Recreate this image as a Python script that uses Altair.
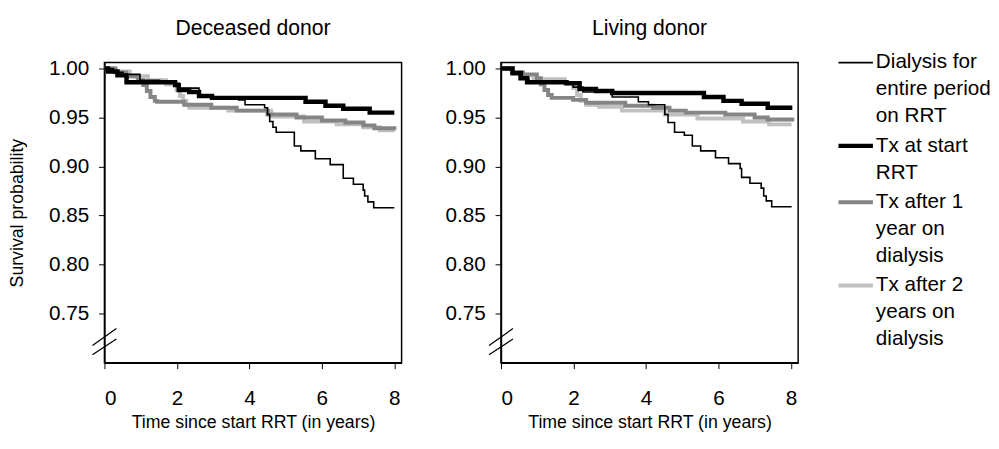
import altair as alt
import pandas as pd

series_names = [
    "Dialysis for entire period on RRT",
    "Tx at start RRT",
    "Tx after 1 year on dialysis",
    "Tx after 2 years on dialysis",
]
label_lines = [
    ["Dialysis for", "entire period", "on RRT"],
    ["Tx at start", "RRT"],
    ["Tx after 1", "year on", "dialysis"],
    ["Tx after 2", "years on", "dialysis"],
]
series_colors = ["#000000", "#000000", "#858585", "#c0c0c0"]
series_widths = [1.6, 4.5, 4.0, 4.0]

panel_titles = ["Deceased donor", "Living donor"]
x_title = "Time since start RRT (in years)"
y_title = "Survival probability"
x_ticks = [0, 2, 4, 6, 8]
y_ticks = [0.75, 0.80, 0.85, 0.90, 0.95, 1.00]

# ---- Deceased donor ----
dec_dial_t = [0, 0.25, 0.51, 0.98, 1.52, 1.89, 2.07, 2.61, 2.98, 3.7, 3.88, 4.42, 4.5, 4.56, 4.65, 4.74,
              5.24, 5.42, 5.82, 6.23, 6.59, 6.87, 7.14, 7.18, 7.27, 7.43, 8.0]
dec_dial_s = [1.000, 0.996, 0.994, 0.988, 0.987, 0.985, 0.980, 0.973, 0.970, 0.968, 0.963, 0.960, 0.953,
              0.946, 0.940, 0.935, 0.921, 0.916, 0.908, 0.902, 0.888, 0.882, 0.876, 0.870, 0.864, 0.858,
              0.858]
dec_tx0_t = [0, 0.1, 0.36, 0.61, 1.95, 2.05, 2.34, 2.61, 2.97, 5.55, 6.10, 6.59, 7.32, 8.0]
dec_tx0_s = [1.000, 0.997, 0.993, 0.986, 0.983, 0.978, 0.976, 0.972, 0.970, 0.966, 0.962, 0.959, 0.955, 0.955]
dec_tx1_t = [0, 0.3, 0.6, 0.92, 1.07, 1.17, 1.27, 1.39, 1.45, 2.2, 2.95, 3.65, 4.5, 5.3, 6.0, 6.65, 7.15,
             7.45, 8.0]
dec_tx1_s = [1.000, 0.996, 0.992, 0.988, 0.983, 0.977, 0.971, 0.967, 0.966, 0.963, 0.960, 0.957, 0.953,
             0.950, 0.947, 0.945, 0.942, 0.939, 0.938]
dec_tx2_t = [0, 0.3, 0.7, 1.2, 1.7, 1.99, 2.08, 2.17, 2.26, 2.34, 3.42, 4.6, 5.51, 6.41, 7.14, 7.6, 8.0]
dec_tx2_s = [1.000, 0.997, 0.992, 0.988, 0.984, 0.978, 0.972, 0.967, 0.963, 0.960, 0.957, 0.951, 0.946,
             0.943, 0.940, 0.937, 0.936]

# ---- Living donor ----
liv_dial_t = [0, 0.32, 0.59, 0.77, 1.99, 2.26, 3.07, 3.79, 4.07, 4.52, 4.61, 4.79, 5.06, 5.28, 5.51, 5.92,
              6.28, 6.6, 6.64, 6.87, 7.18, 7.25, 7.32, 7.47, 8.02]
liv_dial_s = [1.000, 0.997, 0.990, 0.986, 0.981, 0.976, 0.971, 0.966, 0.963, 0.953, 0.945, 0.935, 0.932,
              0.921, 0.916, 0.909, 0.903, 0.898, 0.889, 0.883, 0.878, 0.870, 0.865, 0.859, 0.859]
liv_tx0_t = [0, 0.32, 0.54, 0.72, 1.81, 2.17, 2.62, 3.07, 5.6, 6.14, 6.64, 7.36, 8.04]
liv_tx0_s = [1.000, 0.995, 0.990, 0.986, 0.985, 0.979, 0.977, 0.975, 0.971, 0.967, 0.964, 0.960, 0.960]
liv_tx1_t = [0, 0.3, 0.6, 0.99, 1.1, 1.2, 1.3, 1.4, 1.99, 2.35, 3.43, 4.2, 4.65, 5.1, 6.19, 7.0, 7.36, 8.04]
liv_tx1_s = [1.000, 0.996, 0.994, 0.990, 0.984, 0.978, 0.973, 0.970, 0.968, 0.965, 0.962, 0.960, 0.957,
             0.955, 0.953, 0.950, 0.948, 0.946]
liv_tx2_t = [0, 0.3, 0.6, 0.9, 1.76, 1.99, 2.1, 2.2, 2.35, 2.71, 3.34, 4.52, 5.42, 6.68, 7.4, 8.02]
liv_tx2_s = [1.000, 0.996, 0.993, 0.989, 0.985, 0.980, 0.973, 0.967, 0.963, 0.961, 0.957, 0.953, 0.949,
             0.946, 0.943, 0.943]

# axis-break marks (data coordinates)
break_x = [-0.33, 0.33]
break_y_upper = [0.7175, 0.7348]
break_y_lower = [0.7082, 0.7242]

panel_series = [
    [(dec_dial_t, dec_dial_s), (dec_tx0_t, dec_tx0_s), (dec_tx1_t, dec_tx1_s), (dec_tx2_t, dec_tx2_s)],
    [(liv_dial_t, liv_dial_s), (liv_tx0_t, liv_tx0_s), (liv_tx1_t, liv_tx1_s), (liv_tx2_t, liv_tx2_s)],
]

FONT = "Liberation Sans"
TICK_FS = 21
AXIS_TITLE_FS = 18
PANEL_TITLE_FS = 21.5
LEGEND_FS = 21
LEGEND_LINE_H = 27.3
PLOT_W, PLOT_H = 302, 305

color_scale = alt.Scale(domain=series_names, range=series_colors)
width_scale = alt.Scale(type="ordinal", domain=series_names, range=series_widths)

break_df = pd.DataFrame({
    "x": [break_x[0], break_x[0]],
    "x2": [break_x[1], break_x[1]],
    "y": [break_y_upper[0], break_y_lower[0]],
    "y2": [break_y_upper[1], break_y_lower[1]],
})


def panel_title(text):
    return alt.TitleParams(text, fontSize=PANEL_TITLE_FS, fontWeight="normal", font=FONT,
                           offset=19, anchor="middle", color="black")


def make_panel(i):
    xs = alt.Scale(domain=[0, 8.2], nice=False, zero=False)
    ys = alt.Scale(domain=[0.70, 1.006], nice=False, zero=False)
    x_axis = alt.Axis(values=x_ticks, title=x_title, titlePadding=6, labelPadding=19)
    y_axis = alt.Axis(values=y_ticks, format=".2f", labelPadding=10,
                      title=y_title if i == 0 else None, titlePadding=22)
    layers = []
    # draw order: light gray, gray, thick black, thin black on top
    for k in [3, 2, 1, 0]:
        t, s = panel_series[i][k]
        df = pd.DataFrame({"t": t, "S": s, "series": series_names[k]})
        layers.append(
            alt.Chart(df).mark_line(interpolate="step-after").encode(
                x=alt.X("t:Q", scale=xs, axis=x_axis),
                y=alt.Y("S:Q", scale=ys, axis=y_axis),
                color=alt.Color("series:N", scale=color_scale, legend=None),
                strokeWidth=alt.StrokeWidth("series:N", scale=width_scale, legend=None),
            )
        )
    brk = alt.Chart(break_df).mark_rule(color="black", strokeWidth=1.3).encode(
        x=alt.X("x:Q", scale=xs), x2="x2:Q",
        y=alt.Y("y:Q", scale=ys), y2="y2:Q",
    )
    layers.append(brk)
    return alt.layer(*layers).properties(width=PLOT_W, height=PLOT_H, title=panel_title(panel_titles[i]))


# legend panel: entry position in "line units" derived from the number of label lines
positions = []
acc = 0.0
for k, lines in enumerate(label_lines):
    positions.append(acc + 0.1 * k)
    acc += len(lines)
legend_df = pd.DataFrame({
    "series": series_names,
    "label": ["\n".join(l) for l in label_lines],
    "pos": positions,
})
ly = alt.Scale(domain=[0, PLOT_H / LEGEND_LINE_H], reverse=True, nice=False, zero=False)
leg_sym = alt.Chart(legend_df).mark_rule().encode(
    x=alt.value(0), x2=alt.value(35),
    y=alt.Y("pos:Q", scale=ly, axis=None),
    color=alt.Color("series:N", scale=color_scale, legend=None),
    strokeWidth=alt.StrokeWidth("series:N", scale=width_scale, legend=None),
)
leg_txt = alt.Chart(legend_df).mark_text(
    align="left", baseline="middle", lineBreak="\n", lineHeight=LEGEND_LINE_H,
    font=FONT, fontSize=LEGEND_FS, color="black",
).encode(
    x=alt.value(38),
    y=alt.Y("pos:Q", scale=ly, axis=None),
    text="label:N",
)
legend_panel = alt.layer(leg_sym, leg_txt).properties(
    width=120, height=PLOT_H, title=panel_title(" "), view=alt.ViewBackground(stroke=None)
)

plots = alt.hconcat(make_panel(0), make_panel(1), spacing=40).resolve_scale(
    x="independent", y="independent"
)

chart = alt.hconcat(plots, legend_panel, spacing=34).resolve_scale(
    x="independent", y="independent", color="shared", strokeWidth="shared"
).configure_view(
    stroke="black", strokeWidth=1.5
).configure_axis(
    grid=False, domainColor="black", domainWidth=1.5, tickColor="black", tickSize=6,
    tickWidth=1, labelFont=FONT, labelFontSize=TICK_FS, labelColor="black",
    titleFont=FONT, titleFontSize=AXIS_TITLE_FS, titleFontWeight="normal", titleColor="black",
).properties(
    background="white", padding={"left": 0, "top": 0, "right": 0, "bottom": 0}
)

chart.save("out.html", embed_options={"renderer": "svg", "actions": False})
